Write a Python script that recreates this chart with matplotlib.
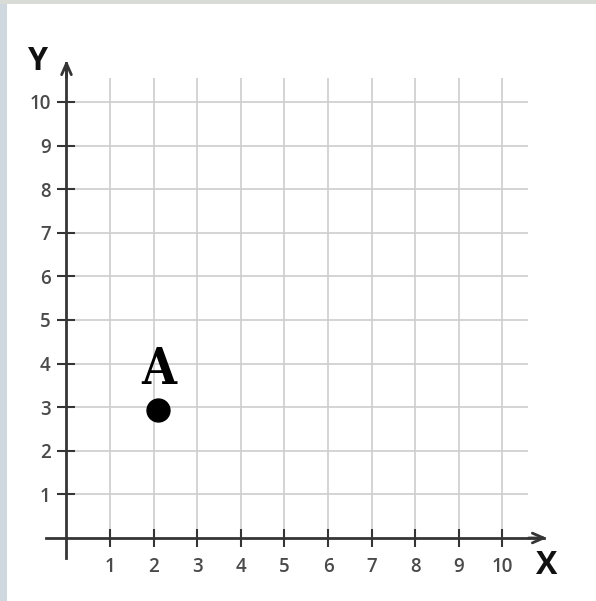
import matplotlib
matplotlib.use("Agg")
import matplotlib.pyplot as plt
from matplotlib.patches import Rectangle

# Data
ticks = [1, 2, 3, 4, 5, 6, 7, 8, 9, 10]
tick_labels = [str(t) for t in ticks]
point_x = [2.1]
point_y = [2.94]
point_name = "A"

fig = plt.figure(figsize=(5.96, 6.01), dpi=100)
fig.patch.set_facecolor("white")

# photo-like border strips at the left and top edge
fig.patches.append(Rectangle((0, 0), 7 / 596, 1, transform=fig.transFigure,
                             facecolor="#cfd7df", edgecolor="none", zorder=0))
fig.patches.append(Rectangle((0, 1 - 4 / 601), 1, 4 / 601, transform=fig.transFigure,
                             facecolor="#d9dcd6", edgecolor="none", zorder=0))

ax = fig.add_axes([0, 0, 1, 1])
ax.patch.set_alpha(0)
ax.set_xlim(-1.525, 12.145)
ax.set_ylim(-1.445, 12.339)

axis_col = "#353535"

# grid
ax.vlines(ticks, 0, 10.55, colors="#cdcdcd", lw=1.2, zorder=1)
ax.hlines(ticks, 0, 10.58, colors="#cdcdcd", lw=1.2, zorder=1)

# axes through the origin
for side in ["top", "right"]:
    ax.spines[side].set_visible(False)
ax.spines["left"].set_position(("data", 0))
ax.spines["bottom"].set_position(("data", 0))
ax.spines["left"].set_bounds(-0.46, 10.9)
ax.spines["bottom"].set_bounds(-0.47, 10.95)
for side in ["left", "bottom"]:
    ax.spines[side].set_linewidth(2.0)
    ax.spines[side].set_color(axis_col)
    ax.spines[side].set_zorder(3)

ax.set_xticks(ticks)
ax.set_xticklabels(tick_labels)
ax.set_yticks(ticks)
ax.set_yticklabels(tick_labels)
ax.tick_params(axis="x", direction="inout", length=13, width=1.5, color=axis_col,
               pad=7, labelsize=13.5, labelcolor="#4a4a4a")
ax.tick_params(axis="y", direction="inout", length=13, width=1.5, color=axis_col,
               pad=5, labelsize=13.5, labelcolor="#4a4a4a")
for lab in ax.get_xticklabels() + ax.get_yticklabels():
    lab.set_fontfamily("Open Sans")
    lab.set_fontweight("semibold")

# arrow heads
ax.annotate("", xy=(11.02, 0), xytext=(10.6, 0),
            arrowprops=dict(arrowstyle="->,head_length=0.8,head_width=0.35",
                            lw=2.0, color=axis_col, shrinkA=0, shrinkB=0), zorder=4)
ax.annotate("", xy=(0, 10.96), xytext=(0, 10.55),
            arrowprops=dict(arrowstyle="->,head_length=0.8,head_width=0.35",
                            lw=2.0, color=axis_col, shrinkA=0, shrinkB=0), zorder=4)

# axis names
ax.text(-0.654, 10.92, "Y", fontsize=23, fontweight="bold", family="Open Sans",
        color="#111111", ha="center", va="center")
ax.text(11.02, -0.64, "X", fontsize=23, fontweight="bold", family="Open Sans",
        color="#111111", ha="center", va="center")

# point A
ax.plot(point_x, point_y, "o", color="black", markersize=16.5, zorder=5)
ax.text(point_x[0] + 0.02, point_y[0] + 0.9, point_name, fontsize=36,
        fontweight="bold", family="DejaVu Serif", fontstretch="condensed",
        color="black", ha="center", va="center", zorder=5)

fig.savefig("out.png", dpi=100)
